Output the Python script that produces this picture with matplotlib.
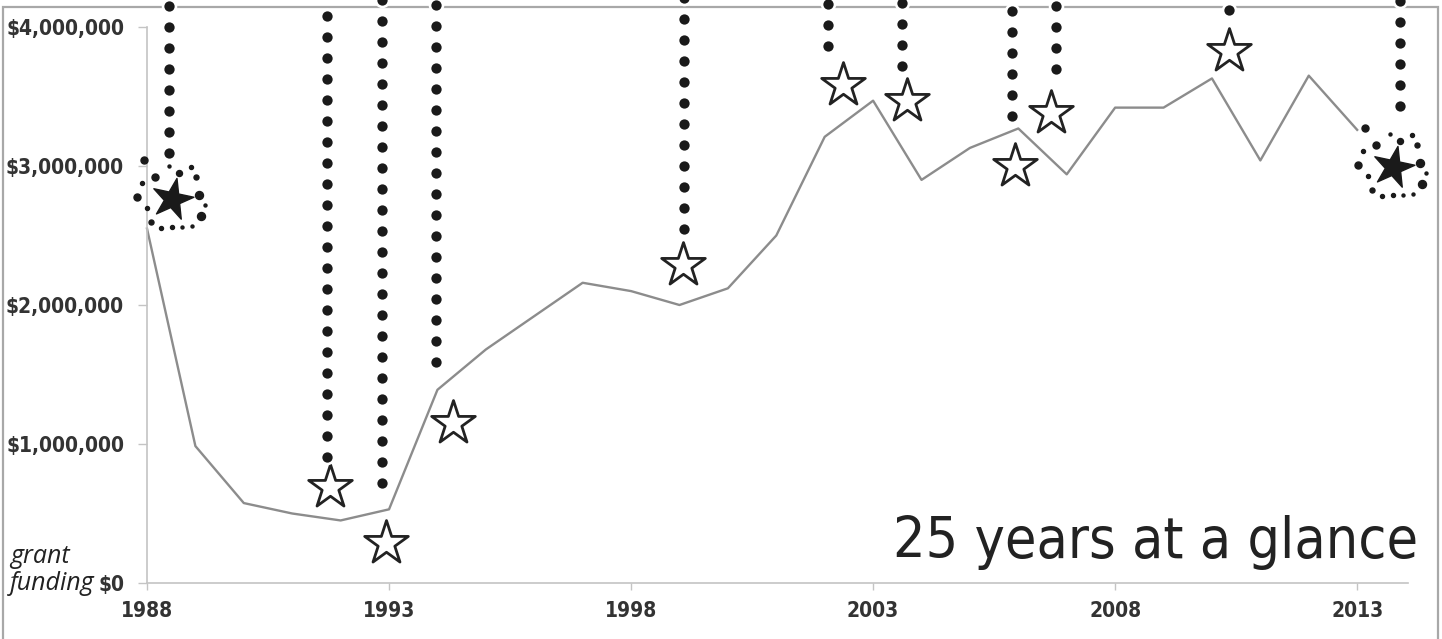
import matplotlib
matplotlib.use("Agg")
import matplotlib.pyplot as plt
from matplotlib.markers import MarkerStyle
from matplotlib.transforms import Affine2D, ScaledTranslation
from matplotlib.ticker import FuncFormatter

# yearly grant funding, 1988-2013
years = list(range(1988, 2014))
funding = [2.55e6, 0.985e6, 0.575e6, 0.50e6, 0.45e6, 0.53e6, 1.39e6, 1.68e6,
           1.92e6, 2.16e6, 2.10e6, 2.00e6, 2.12e6, 2.50e6, 3.21e6, 3.47e6,
           2.90e6, 3.13e6, 3.27e6, 2.94e6, 3.42e6, 3.42e6, 3.63e6, 3.04e6,
           3.65e6, 3.26e6]

# milestone stars (hollow) and the two anniversary stars (filled)
star_x = [1991.78, 1992.94, 1994.33, 1999.08, 2002.37, 2003.69, 2005.93,
          2006.67, 2010.35]
star_y = [0.69e6, 0.29e6, 1.15e6, 2.29e6, 3.58e6, 3.47e6, 3.00e6, 3.38e6,
          3.83e6]
big_x = [1988.52, 2013.74]
big_y = [2.76e6, 2.99e6]

# dotted leaders hanging down from the callouts above the chart
lead_x = [1988.45, 1991.72, 1992.86, 1993.98, 1999.10, 2002.06, 2003.59,
          2005.87, 2006.78, 2010.35, 2013.89]
lead_end = [3.09e6, 0.91e6, 0.72e6, 1.59e6, 2.55e6, 3.86e6, 3.72e6,
            3.36e6, 3.70e6, 4.12e6, 3.43e6]

xticks = [1988, 1993, 1998, 2003, 2008, 2013]
yticks = [0, 1e6, 2e6, 3e6, 4e6]

# little dots around the filled stars (px offsets, y down, size in px)
sparkles = [(-28, -39, 7), (-17, -22, 7), (7, -26, 6), (19, -32, 4),
            (24, -22, 5), (-30, -16, 4), (-35, -2, 7), (27, -4, 8),
            (-25, 9, 4), (29, 17, 8), (-21, 23, 5), (-11, 29, 4),
            (0, 28, 4), (10, 28, 3), (20, 27, 3), (-3, -33, 3), (33, 6, 3)]

W, H, DPI = 1442, 639, 100
fig = plt.figure(figsize=(W / DPI, H / DPI), dpi=DPI)
fig.patch.set_facecolor("white")

# thin frame round the whole graphic
fig.add_artist(plt.Rectangle((3 / W, -0.05), 1435 / W, 1.05 - 7 / H,
                             transform=fig.transFigure, fill=False,
                             edgecolor="#a8a8a8", linewidth=1.6, zorder=0))

ax = fig.add_axes([147 / W, 1 - 583 / H, (1408 - 147) / W, (583 - 27) / H])
ax.set_xlim(1988, 2014.05)
ax.set_ylim(0, 4e6)
ax.set_facecolor("none")

for s in ["top", "right"]:
    ax.spines[s].set_visible(False)
for s in ["left", "bottom"]:
    ax.spines[s].set_color("#c4c4c4")
    ax.spines[s].set_linewidth(1.2)

lab_font = dict(family="DejaVu Sans", stretch="condensed", weight="bold",
                size=15)
ax.set_xticks(xticks)
ax.set_xticklabels([str(y) for y in xticks], color="#333333", **lab_font)
ax.set_yticks(yticks)
ax.yaxis.set_major_formatter(FuncFormatter(lambda v, p: "${:,.0f}".format(v)))
for t in ax.get_yticklabels():
    t.set(color="#333333", **lab_font)
ax.tick_params(axis="y", direction="out", length=6.5, width=1, color="#c4c4c4",
               pad=10)
ax.tick_params(axis="x", direction="out", length=5, width=1, color="#c4c4c4",
               pad=8)

ax.plot(years, funding, color="#8c8c8c", linewidth=1.7, zorder=2,
        clip_on=False)

# dotted leaders, one dot every 21 px going up to the top edge
ax_h_px = 583 - 27
step = 4e6 * 21 / ax_h_px
top_val = 4e6 * (583 + 5) / ax_h_px
for lx, ly in zip(lead_x, lead_end):
    ys = []
    v = ly
    while v < top_val:
        ys.append(v)
        v += step
    ax.scatter([lx] * len(ys), ys, s=125, color="white", linewidths=0,
               zorder=5, clip_on=False)
    ax.scatter([lx] * len(ys), ys, s=55, color="#1a1a1a", linewidths=0,
               zorder=6, clip_on=False)

ax.scatter(star_x, star_y, marker="*", s=33 ** 2, facecolors="white",
           edgecolors="#222222", linewidths=2.0, zorder=4, clip_on=False)

tilted = MarkerStyle("*", transform=Affine2D().rotate_deg(-12))
ax.scatter(big_x, big_y, marker=tilted, s=31 ** 2, color="#1a1a1a",
           zorder=4, clip_on=False)
for bx, by in zip(big_x, big_y):
    for dx, dy, sz in sparkles:
        off = ScaledTranslation(dx / DPI, -dy / DPI, fig.dpi_scale_trans)
        ax.plot(bx, by, marker="o", markersize=sz * 72 / DPI,
                color="#1a1a1a", transform=ax.transData + off, zorder=4,
                clip_on=False)

ax.text(2014.26, 0.18e6, "25 years at a glance", ha="right",
        va="baseline", color="#222222", zorder=3, family="DejaVu Sans",
        stretch="condensed", size=41)

fig.text(10 / W, 1 - 563 / H, "grant", ha="left", va="baseline",
         fontsize=18, family="Open Sans", style="italic", color="#222222")
fig.text(10 / W, 1 - 590 / H, "funding", ha="left", va="baseline",
         fontsize=18, family="Open Sans", style="italic", color="#222222")

fig.savefig("out.png", dpi=DPI, facecolor="white")
